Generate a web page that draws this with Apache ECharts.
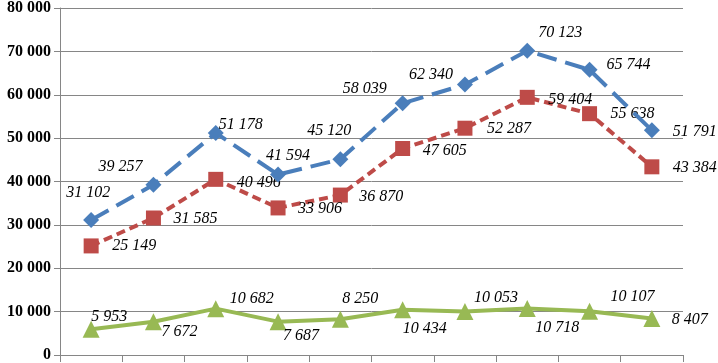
<!DOCTYPE html>
<html>
<head>
<meta charset="utf-8">
<script src="https://cdn.jsdelivr.net/npm/echarts@6/dist/echarts.min.js"></script>
<style>
  html, body { margin: 0; padding: 0; background: #fff; }
  #chart { width: 718px; height: 363px; }
</style>
</head>
<body>
<div id="chart"></div>
<script>
// data
const categories = ['1', '2', '3', '4', '5', '6', '7', '8', '9', '10'];
const blueValues = [31102, 39257, 51178, 41594, 45120, 58039, 62340, 70123, 65744, 51791];
const redValues = [25149, 31585, 40496, 33906, 36870, 47605, 52287, 59404, 55638, 43384];
const greenValues = [5953, 7672, 10682, 7687, 8250, 10434, 10053, 10718, 10107, 8407];
const yTicks = [0, 10000, 20000, 30000, 40000, 50000, 60000, 70000, 80000];

// label offsets (label centre relative to the marker), style only
const blueOffsets = [[-3, -27], [-33, -18], [25, -8], [10, -19], [-11, -28], [-38, -14], [-34, -10], [33, -18], [39, -5], [43, 1]];
const redOffsets = [[43, 0], [42, 1], [43, 3], [42, 1], [41, 2], [42, 2], [44, 1], [43, 2], [43, 0], [43, 1]];
const greenOffsets = [[18, -12], [26, 10], [36, -10], [23, 14], [20, -20], [22, 19], [31, -14], [30, 19], [43, -14], [38, 1]];

const fmt = (v) => String(v).replace(/\B(?=(\d{3})+(?!\d))/g, ' ');

const labelFont = {
  fontFamily: 'Liberation Serif',
  fontStyle: 'italic',
  fontSize: 16,
  color: '#000',
};

function withLabels(values, offsets) {
  return values.map((v, i) => ({
    value: v,
    label: {
      show: true,
      position: 'inside',
      align: 'center',
      verticalAlign: 'middle',
      offset: offsets[i],
      formatter: (p) => fmt(p.value),
      ...labelFont,
    },
  }));
}

const chart = echarts.init(document.getElementById('chart'), null, { renderer: 'canvas' });

chart.setOption({
  animation: false,
  grid: { left: 60, right: 35, top: 6, bottom: 7, containLabel: false },
  xAxis: {
    type: 'category',
    data: categories,
    boundaryGap: true,
    axisLine: { lineStyle: { color: '#868686', width: 1 } },
    axisTick: { show: true, length: 7, lineStyle: { color: '#868686' } },
    axisLabel: { show: false },
  },
  yAxis: {
    type: 'value',
    min: yTicks[0],
    max: yTicks[yTicks.length - 1],
    interval: 10000,
    axisLine: { show: true, lineStyle: { color: '#868686', width: 1 } },
    axisTick: { show: true, length: 6, lineStyle: { color: '#868686' } },
    axisLabel: {
      margin: 9,
      formatter: (v) => fmt(v),
      fontFamily: 'Liberation Serif',
      fontWeight: 'bold',
      fontSize: 16,
      color: '#000',
    },
    splitLine: { lineStyle: { color: '#868686', width: 1 } },
  },
  series: [
    {
      type: 'line',
      data: withLabels(blueValues, blueOffsets),
      symbol: 'diamond',
      symbolSize: 16,
      itemStyle: { color: '#4A7EBB' },
      lineStyle: { color: '#4A7EBB', width: 4, type: [20, 9] },
      z: 3,
    },
    {
      type: 'line',
      data: withLabels(redValues, redOffsets),
      symbol: 'rect',
      symbolSize: 15,
      itemStyle: { color: '#BE4B48' },
      lineStyle: { color: '#BE4B48', width: 4, type: [9, 5] },
      z: 2,
    },
    {
      type: 'line',
      data: withLabels(greenValues, greenOffsets),
      symbol: 'triangle',
      symbolSize: 17,
      itemStyle: { color: '#98B954' },
      lineStyle: { color: '#98B954', width: 4 },
      z: 2,
    },
  ],
});
</script>
</body>
</html>
